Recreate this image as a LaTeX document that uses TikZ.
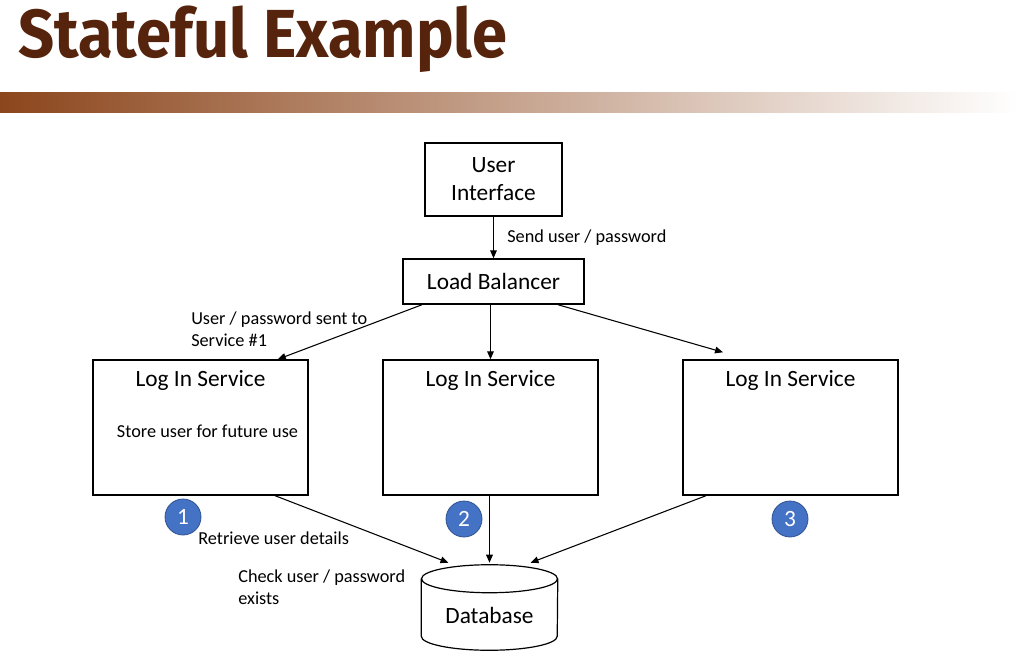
\documentclass[tikz,border=0pt]{standalone}
\usepackage{fontspec}
\setmainfont{Carlito}
\newfontfamily\titlefont{Fira Sans}
\usetikzlibrary{arrows.meta,positioning}
\definecolor{titlebrown}{RGB}{86,36,12}
\definecolor{barbrown}{RGB}{140,70,28}
\definecolor{numblue}{RGB}{68,114,196}
\definecolor{numedge}{RGB}{47,82,143}

\begin{document}
\begin{tikzpicture}[x=0.75pt,y=-0.75pt]
      \tikzset{box/.style={draw,line width=1.1pt,inner sep=0pt,font=\fontsize{17.5}{21}\selectfont},
        service/.style={box,minimum width=161.25pt,minimum height=101.25pt,
          label={[anchor=north,inner sep=0pt,yshift=-8.5pt,font=\fontsize{17.5}{17.5}\selectfont]north:Log In Service}},
        note/.style={font=\fontsize{13.7}{16.5}\selectfont,align=left,inner sep=0pt},
        num/.style={circle,fill=numblue,draw=numedge,line width=0.6pt,text=white,
          minimum size=27pt,inner sep=0pt,font=\fontsize{17.5}{17.5}\selectfont},
        link/.style={-{Triangle[length=6pt,width=5pt]},line width=0.8pt}}
      \useasboundingbox (0,0) rectangle (1018,671);
      \node[anchor=base west,text=titlebrown,inner sep=0pt,
        font=\titlefont\bfseries\fontsize{51}{51}\selectfont] (title) at (18,57) {\scalebox{0.93}[1]{Stateful Example}};
      \shade[left color=barbrown,right color=white] (0,92) rectangle (1018,112);

      \node[box,minimum width=102.75pt,minimum height=54.75pt,align=center] (ui) at (493.5,179.5) {User\\Interface};
      \node[box,minimum width=135.75pt,minimum height=33.75pt] (lb) at (493.5,281.5) {Load Balancer};
      \node[service] (s1) at (200.5,427.5) {};
      \node[service] (s2) at (490.5,427.5) {};
      \node[service] (s3) at (790.5,427.5) {};
      \node[note] (store) at (207.5,431) {Store user for future use};

      % database
      \node[minimum width=102pt,minimum height=63.75pt,inner sep=0pt,
        label={[yshift=-6pt,font=\fontsize{17.5}{17.5}\selectfont]center:Database}] (db) at (489.5,607.5) {};
      \draw[line width=0.9pt] ([yshift=-10.5pt]db.north) ellipse [x radius=51pt,y radius=10.5pt];
      \draw[line width=0.9pt] ([yshift=-10.5pt]db.north west) -- ([yshift=10.5pt]db.south west)
        arc[start angle=180,end angle=360,x radius=51pt,y radius=10.5pt] -- ([yshift=-10.5pt]db.north east);

      \node[num] (n1) at (183,517) {1};
      \node[num] (n2) at (464,519) {2};
      \node[num] (n3) at (790,519) {3};

      \node[note,anchor=west] (send) at (507,238) {Send user / password};
      \node[note,anchor=north west] (sent) at (191,312) {User / password sent to\\Service \#1};
      \node[note,anchor=west] (fetch) at (198,538) {Retrieve user details};
      \node[note,anchor=north west] (check) at (238,570) {Check user / password\\exists};

      \coordinate (s3in) at ([xshift=-50.6pt,yshift=5.25pt]s3.north);
      \draw[link] (ui) -- (lb);
      \draw[link] ([xshift=-53.6pt]lb.south) -- ([xshift=58pt]s1.north);
      \draw[link] (lb.south -| s2.north) -- (s2.north);
      \draw[link] ([xshift=48.4pt]lb.south) -- (s3in);
      \draw[link] ([xshift=56pt]s1.south) -- ([xshift=-30.75pt,yshift=1.5pt]db.north);
      \draw[link] (s2.south -| db.north) -- ([yshift=1.5pt]db.north);
      \draw[link] ([xshift=-63.4pt]s3.south) -- ([xshift=30.75pt,yshift=1.5pt]db.north);
\end{tikzpicture}
\end{document}
